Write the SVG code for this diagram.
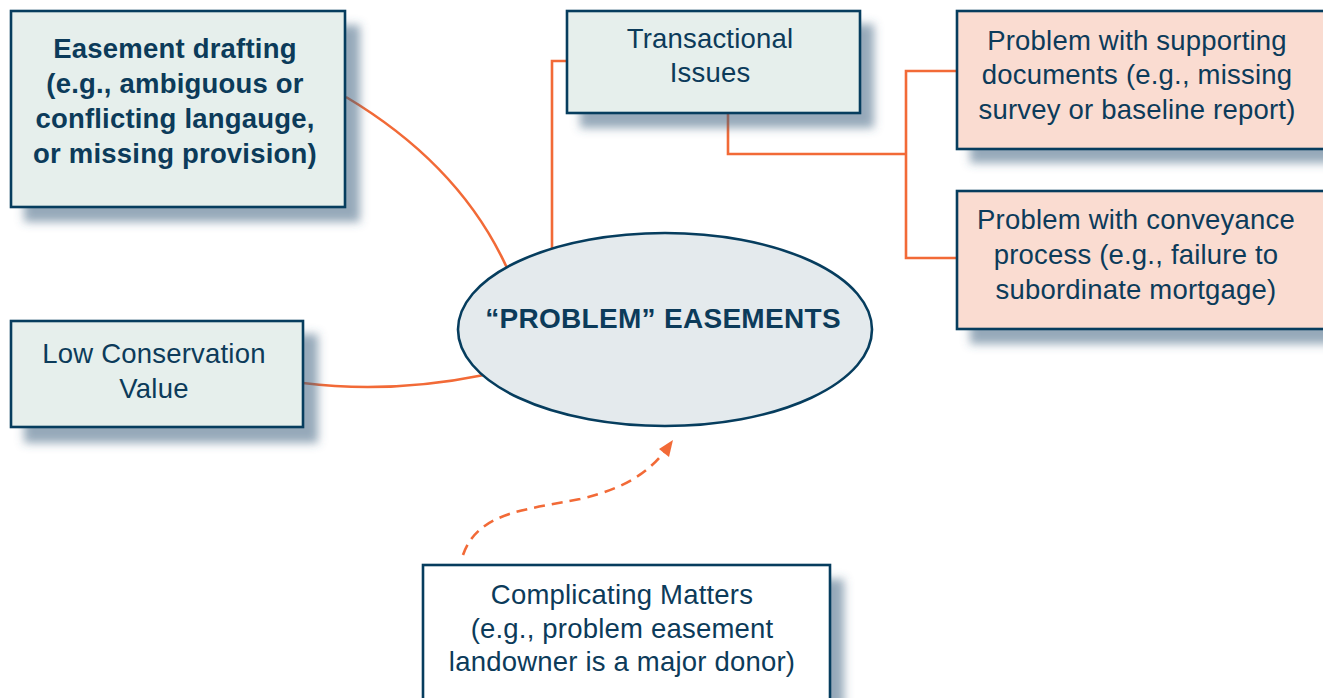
<svg xmlns="http://www.w3.org/2000/svg" width="1323" height="698" viewBox="0 0 1323 698">
<style>
.box{stroke:#063d5e;stroke-width:2.6}
.g{fill:#e6efec}
.p{fill:#fadcd1}
.sh{fill:#3f6180;fill-opacity:0.55;filter:url(#blur)}
.t{font-family:"Liberation Sans",Arial,sans-serif;font-size:27.5px;fill:#0c3b5a;text-anchor:middle;letter-spacing:0.2px}
.b{font-weight:bold}
.c{fill:none;stroke:#f26a37;stroke-width:2.6}
</style>
<defs>
<filter id="blur" x="-20%" y="-20%" width="140%" height="140%"><feGaussianBlur stdDeviation="5"/></filter>
</defs>
<rect width="1323" height="698" fill="#fff"/>
<g id="connectors">
<path class="c" d="M346,97 Q460,165 507,268"/>
<path class="c" d="M567,61 H552 V248"/>
<path class="c" d="M728,113 V154 H906"/>
<path class="c" d="M957,71 H906 V258 H957"/>
<path class="c" d="M303,383 Q390,394 484,375"/>
<path class="c" d="M463,555 C478,512 525,510 580,499 C628,488 650,470 664,452" stroke-dasharray="11,7"/>
<path d="M673,440 L659,449 L669,457 z" fill="#f26a37"/>
</g>
<g id="easement-drafting">
<rect class="sh" x="24" y="25" width="336" height="197"/>
<rect class="box g" x="11" y="11" width="334" height="196"/>
<text class="t b" x="175" y="58">Easement drafting</text>
<text class="t b" x="175" y="93">(e.g., ambiguous or</text>
<text class="t b" x="175" y="128">conflicting langauge,</text>
<text class="t b" x="175" y="163">or missing provision)</text>
</g>
<g id="transactional">
<rect class="sh" x="580" y="24" width="294" height="104"/>
<rect class="box g" x="567" y="11" width="293" height="102"/>
<text class="t" x="710" y="48">Transactional</text>
<text class="t" x="710" y="82">Issues</text>
</g>
<g id="supporting-docs">
<rect class="sh" x="970" y="24" width="370" height="139"/>
<rect class="box p" x="957" y="11" width="370" height="138"/>
<text class="t" x="1137" y="50">Problem with supporting</text>
<text class="t" x="1137" y="84">documents (e.g., missing</text>
<text class="t" x="1137" y="119">survey or baseline report)</text>
</g>
<g id="conveyance">
<rect class="sh" x="970" y="205" width="370" height="139"/>
<rect class="box p" x="957" y="191" width="370" height="138"/>
<text class="t" x="1136" y="229">Problem with conveyance</text>
<text class="t" x="1136" y="264">process (e.g., failure to</text>
<text class="t" x="1136" y="299">subordinate mortgage)</text>
</g>
<g id="low-conservation">
<rect class="sh" x="24" y="334" width="294" height="109"/>
<rect class="box g" x="11" y="321" width="292" height="106"/>
<text class="t" x="154" y="363">Low Conservation</text>
<text class="t" x="154" y="398">Value</text>
</g>
<g id="problem-easements">
<ellipse cx="665" cy="329.5" rx="207" ry="96.5" fill="#e4eaed" stroke="#063d5e" stroke-width="2.6"/>
<text class="t b" x="663" y="328" style="font-size:28px;letter-spacing:0.3px">“PROBLEM” EASEMENTS</text>
</g>
<g id="complicating">
<rect class="sh" x="436" y="579" width="408" height="140"/>
<rect class="box" fill="#fff" x="423" y="565" width="407" height="140"/>
<text class="t" x="622" y="604">Complicating Matters</text>
<text class="t" x="622" y="638">(e.g., problem easement</text>
<text class="t" x="622" y="671">landowner is a major donor)</text>
</g>
</svg>
